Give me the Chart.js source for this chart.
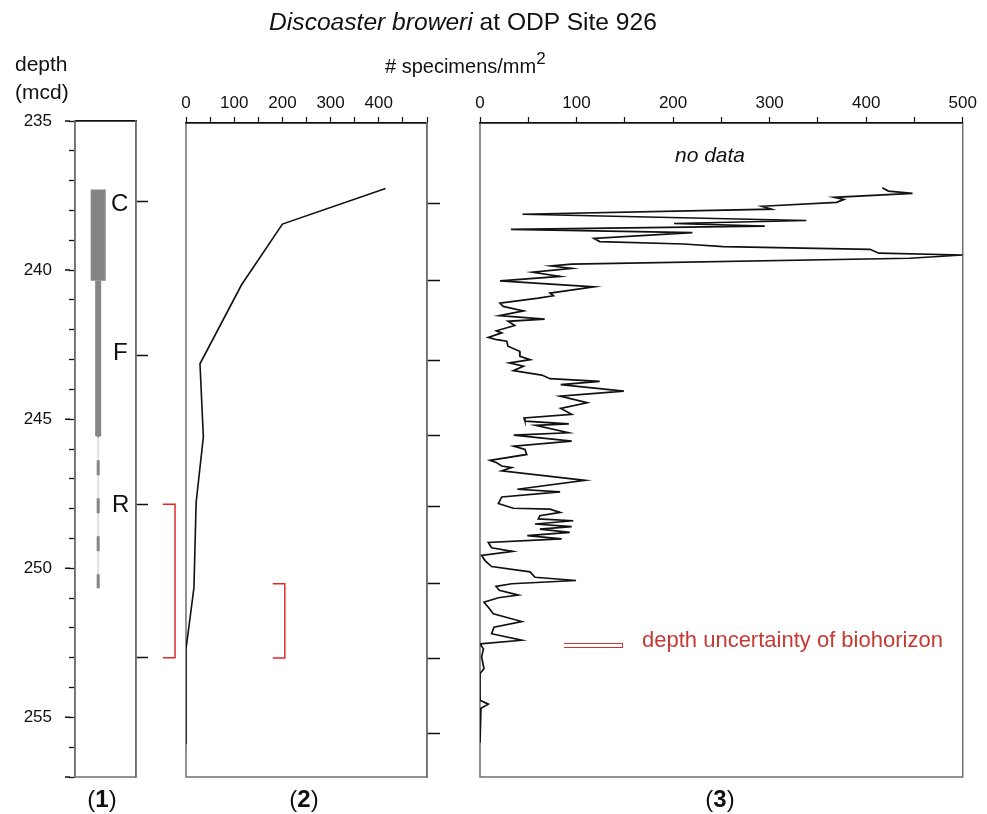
<!DOCTYPE html>
<html><head><meta charset="utf-8">
<script src="https://cdn.jsdelivr.net/npm/chart.js@4.4.1/dist/chart.umd.min.js"></script>
<style>
html,body{margin:0;padding:0;background:#fff;}
#wrap{position:relative;width:987px;height:814px;overflow:hidden;font-family:"Liberation Sans",Arial,Helvetica,sans-serif;color:#111;}
#wrap canvas{position:absolute;left:0;top:0;}
.t{position:absolute;white-space:nowrap;line-height:1;}
</style></head><body>
<div id="wrap">
<canvas id="c1" width="987" height="814"></canvas>
<canvas id="c2" width="987" height="814"></canvas>
<canvas id="c3" width="987" height="814"></canvas>
<div class="t" style="left:0;top:10.3px;width:926px;text-align:center;font-size:24.6px"><i>Discoaster broweri</i> at ODP Site 926</div>
<div class="t" style="left:385px;top:56px;font-size:20px"># specimens/mm<span style="font-size:17px;position:relative;top:-9px">2</span></div>
<div class="t" style="left:15px;top:53px;font-size:21px">depth</div>
<div class="t" style="left:15px;top:81px;font-size:21px">(mcd)</div>
<div class="t" style="left:111px;top:190.7px;font-size:24px">C</div>
<div class="t" style="left:113px;top:339.7px;font-size:24px">F</div>
<div class="t" style="left:112px;top:492.4px;font-size:24px">R</div>
<div class="t" style="left:610px;top:144px;width:200px;text-align:center;font-size:21px;font-style:italic">no data</div>
<div class="t" style="left:564px;top:643px;width:58px;height:3px;border:1.5px solid #d9302c;border-left:none"></div>
<div class="t" style="left:642px;top:629px;font-size:22px;color:#c53a32">depth uncertainty of biohorizon</div>
<div class="t" style="left:52px;top:787px;width:100px;text-align:center;font-size:24px">(<b>1</b>)</div>
<div class="t" style="left:254px;top:787px;width:100px;text-align:center;font-size:24px">(<b>2</b>)</div>
<div class="t" style="left:670px;top:787px;width:100px;text-align:center;font-size:24px">(<b>3</b>)</div>
</div>
<script>
// ---------------- DATA ----------------
const depthMin = 235;
const depthMax = 257;
const depthLabelTicks = [235, 240, 245, 250, 255];

// Panel (1): range of D. broweri (C = common, F = few, R = rare)
const rangeCommon = [237.3, 240.36];
const rangeFew = [240.36, 245.57];
const rangeRare = [245.57, 250.67];
const biohorizonMarks = [237.7, 242.85, 247.85, 253.0];
const uncertainty1 = [247.85, 253.0];

// Panel (2)
const p2Depth = [237.2, 238.4, 240.45, 243.1, 245.56, 247.77, 250.63, 252.7, 255.9];
const p2Count = [414, 200, 115, 29, 36, 21, 16.5, 0, 0];
const coreBreaks = [237.7, 240.3, 243.0, 245.5, 247.9, 250.5, 253.0, 255.55];
const uncertainty2 = [250.5, 253.0];
const axis2Labels = [0, 100, 200, 300, 400];

// Panel (3)
const p3Depth = [237.18,237.29,237.37,237.5,237.57,237.67,237.8,237.9,238.07,238.28,
  238.38,238.47,238.58,238.69,238.88,238.99,239.07,239.16,239.25,239.38,
  239.44,239.55,239.75,239.81,239.89,240.02,240.16,240.31,240.51,240.72,
  240.81,240.89,241.06,241.17,241.32,241.48,241.6,241.67,241.81,241.99,
  242.06,242.21,242.29,242.34,242.51,242.68,242.85,242.96,243.07,243.18,
  243.33,243.48,243.6,243.69,243.8,244.02,244.19,244.41,244.6,244.8,
  244.92,245.03,245.12,245.17,245.42,245.5,245.7,245.87,245.98,246.15,
  246.35,246.43,246.54,246.59,246.7,247.02,247.32,247.41,247.58,247.8,
  247.96,247.99,248.1,248.21,248.32,248.38,248.49,248.58,248.66,248.77,
  248.88,248.99,249.11,249.29,249.41,249.55,249.72,249.92,250.1,250.28,
  250.39,250.5,250.59,250.72,250.88,250.97,251.12,251.29,251.51,251.77,
  251.96,252.18,252.4,252.52,252.69,252.96,253.36,253.52,254.42,254.55,
  254.69,254.85,255.85];
const p3Count = [416.7,423,448,367,377,369.5,292,302,44,338,
  201,295,32,220,118,124,211,252,404,413,
  500,445,95,74,95,54.6,83,20.7,118,72.5,
  76,60.4,20.7,24,45,20,67,29,36,17,
  22.5,8.6,17.3,27.7,29,41,41.4,52,30.4,45,
  34.5,64,72.5,124,83.6,149,83,111,83.6,95,
  45.6,46.6,92,57.7,91.5,35,95,35,46.6,48.4,
  10.4,17.3,22.5,32.8,22.5,108.8,38.7,83,22.5,19,
  34.5,72.5,83,62,60.4,96.6,57,95,62,93,
  49,84.6,8.6,12,33.8,1.7,5.2,12,51.8,57,
  99.5,32.8,16.6,20,39.7,19,4.1,8.6,13.8,43.2,
  14.5,12,43.2,0,3.5,1.7,4.1,0,0,8.6,
  1,0,0];
const axis3Labels = [0, 100, 200, 300, 400, 500];

// ---------------- STYLE ----------------
const INK = '#111111', FRAME = '#6f6f6f', RED = '#e0292b', BAR = '#858585';
const FONT = '"Liberation Sans", Arial, Helvetica, sans-serif';
const rangeColumnX = 0.38;          // horizontal position of range column inside panel 1
const bracket1X = [1.44, 1.64];     // bracket beside panel 1 (panel-1 x units)
const bracket2X = [180, 205];       // bracket inside panel 2 (count units)
Chart.defaults.font.family = FONT;
Chart.defaults.color = INK;

const framePlugin = {id:'frame', beforeDraw(c){
  const a = c.chartArea, x = c.ctx; x.save(); x.strokeStyle = FRAME; x.lineWidth = 1.5;
  x.strokeRect(a.left, a.top, a.right - a.left, a.bottom - a.top); x.restore(); }};

function pts(xs, ys){ return xs.map((v, i) => ({x: v, y: ys[i]})); }
function seg(xv, range){ return [{x: xv, y: range[0]}, {x: xv, y: range[1]}]; }
function bracket(xr, dr){ return [{x:xr[0],y:dr[0]},{x:xr[1],y:dr[0]},{x:xr[1],y:dr[1]},{x:xr[0],y:dr[1]}]; }
function lineDs(data, color, width, extra){
  return Object.assign({data, showLine:true, borderColor:color, borderWidth:width, pointRadius:0, fill:false, tension:0}, extra || {});
}
function opts(padding, scales){
  return {responsive:false, animation:false, events:[], layout:{padding},
    plugins:{legend:{display:false}, tooltip:{enabled:false}}, scales};
}
function depthAxis(extra){
  return Object.assign({type:'linear', min:depthMin, max:depthMax, reverse:true}, extra);
}
function rightTickAxis(values, len){
  return depthAxis({position:'right', afterFit:s=>{s.width = len;},
    afterBuildTicks:s=>{s.ticks = values.map(v => ({value:v}));},
    ticks:{display:false}, grid:{drawOnChartArea:false, tickLength:len, tickColor:INK, tickWidth:1.5},
    border:{color:FRAME, width:1.5}});
}
function topCountAxis(labels){
  return {type:'linear', position:'top', min:0, max:500, afterFit:s=>{s.height = 123;},
    ticks:{stepSize:50, autoSkip:false, maxRotation:0, padding:3, color:INK, font:{size:17},
      callback:v => labels.includes(v) ? String(v) : ''},
    grid:{drawOnChartArea:false, tickLength:6, tickColor:INK, tickWidth:1.2},
    border:{color:INK, width:1.5}};
}

// ---------------- PANEL 1 ----------------
const majorTickPlugin = {id:'major', afterDraw(c){
  const s = c.scales.y, x = c.ctx; x.save(); x.strokeStyle = INK; x.lineWidth = 1.5; x.beginPath();
  [...depthLabelTicks, depthMax].forEach(v => { const py = s.getPixelForValue(v); x.moveTo(s.right - 10, py); x.lineTo(s.right - 5, py); });
  x.stroke(); x.restore(); }};

new Chart(document.getElementById('c1'), {
  type:'scatter',
  data:{datasets:[
    lineDs(bracket(bracket1X, uncertainty1), RED, 1.5, {clip:false}),
    lineDs(seg(rangeColumnX, rangeCommon), BAR, 15),
    lineDs(seg(rangeColumnX, rangeFew), BAR, 6),
    lineDs(seg(rangeColumnX, rangeRare), BAR, 3, {borderDash:[15, 23], borderDashOffset:14}),
    lineDs(seg(rangeColumnX, rangeRare), '#dcdcdc', 1)
  ]},
  options:opts({left:0, top:0, right:987 - 136 - 12, bottom:37}, {
    x:{type:'linear', position:'top', min:0, max:1, afterFit:s=>{s.height = 121;},
      ticks:{display:false}, grid:{display:false}, border:{display:true, color:INK, width:1.5}},
    y:depthAxis({position:'left', afterFit:s=>{s.width = 75;},
      ticks:{stepSize:1, autoSkip:false, padding:17, color:INK, font:{size:17},
        callback:v => depthLabelTicks.includes(v) ? String(v) : ''},
      grid:{drawOnChartArea:false, tickLength:6, tickColor:INK, tickWidth:1.3},
      border:{color:FRAME, width:1.5}}),
    yr:rightTickAxis(biohorizonMarks, 12)
  }),
  plugins:[framePlugin, majorTickPlugin]
});

// ---------------- PANEL 2 ----------------
new Chart(document.getElementById('c2'), {
  type:'scatter',
  data:{datasets:[
    lineDs(pts(p2Count, p2Depth), INK, 1.6),
    lineDs(bracket(bracket2X, uncertainty2), RED, 1.5)
  ]},
  options:opts({left:186, top:0, right:987 - 427 - 13, bottom:37}, {
    x:topCountAxis(axis2Labels),
    y:depthAxis({display:false}),
    yr:rightTickAxis(coreBreaks, 13)
  }),
  plugins:[framePlugin]
});

// ---------------- PANEL 3 ----------------
new Chart(document.getElementById('c3'), {
  type:'scatter',
  data:{datasets:[ lineDs(pts(p3Count, p3Depth), INK, 1.7) ]},
  options:opts({left:480, top:0, right:24.3, bottom:37}, {
    x:topCountAxis(axis3Labels),
    y:depthAxis({display:false})
  }),
  plugins:[framePlugin]
});
</script>
</body></html>
